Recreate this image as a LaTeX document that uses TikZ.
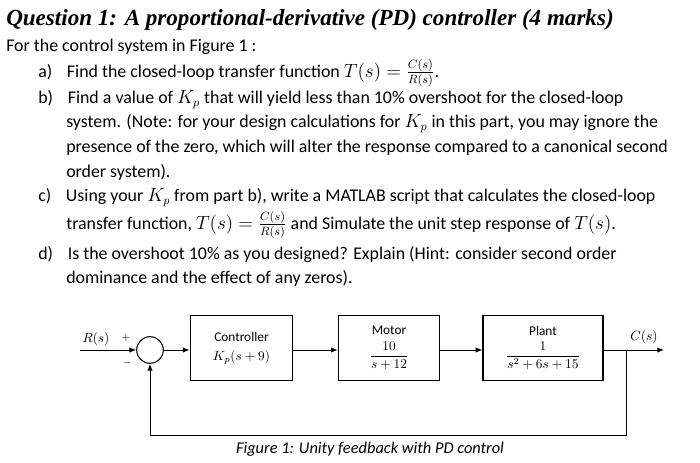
\documentclass[tikz,border=0pt]{standalone}
\usepackage{amsmath}
\usepackage{fontspec}
\setmainfont{Carlito}
\newfontfamily\titlefont{Liberation Serif}
\usetikzlibrary{arrows.meta}
\begin{document}
\begin{tikzpicture}[x=0.75pt,y=-0.75pt,
  txt/.style={anchor=west,inner sep=0,font=\fontsize{13.4}{15}\selectfont},
  blk/.style={draw,line width=0.9pt,minimum height=49pt,align=center,font=\fontsize{10}{12}\selectfont},
  ln/.style={line width=0.7pt,-{Latex[length=5pt,width=4pt]}}]
\useasboundingbox (0,0) rectangle (700,463);
\node[anchor=west,inner sep=0,font=\titlefont\bfseries\itshape\fontsize{17.3}{19}\selectfont] (t) at (6,20) {Question 1: A proportional-derivative (PD) controller (4 marks)};
\node[txt] (l0) at (6,47) {For the control system in Figure 1 :};
\node[txt] (la) at (38,73) {a)\hspace{0.6em} Find the closed-loop transfer function $T(s)=\frac{C(s)}{R(s)}$.};
\node[txt] (lb) at (38,100) {b)\hspace{0.6em} Find a value of $K_p$ that will yield less than 10\% overshoot for the closed-loop};
\node[txt] (lb2) at (66,124) {system. (Note: for your design calculations for $K_p$ in this part, you may ignore the};
\node[txt] (lb3) at (66,148) {presence of the zero, which will alter the response compared to a canonical second};
\node[txt] (lb4) at (66,172) {order system).};
\node[txt] (lc) at (38,198) {c)\hspace{0.6em} Using your $K_p$ from part b), write a MATLAB script that calculates the closed-loop};
\node[txt] (lc2) at (66,225) {transfer function, $T(s)=\frac{C(s)}{R(s)}$ and Simulate the unit step response of $T(s)$.};
\node[txt] (ld) at (38,255) {d)\hspace{0.6em} Is the overshoot 10\% as you designed? Explain (Hint: consider second order};
\node[txt] (ld2) at (66,278) {dominance and the effect of any zeros).};
% diagram
\node[draw,circle,line width=0.8pt,minimum size=20pt,inner sep=0] (sum) at (150,350) {};
\node[blk,minimum width=77pt] (c) at (241.5,348) {Controller\\[2pt]$K_p(s+9)$};
\node[blk,minimum width=76pt] (m) at (389,348) {Motor\\[4pt]$\dfrac{10}{s+12}$};
\node[blk,minimum width=90pt] (p) at (543,348) {Plant\\[4pt]$\dfrac{1}{s^2+6s+15}$};
\coordinate (in) at (80,350);
\coordinate (br) at (626,350);
\coordinate (out) at (664,350);
\coordinate (fb) at (626,435);
\coordinate (fb2) at (150,435);
\draw[ln] (in) -- (sum);
\draw[ln] (sum) -- (c.west|-sum);
\draw[ln] (c.east|-sum) -- (m.west|-sum);
\draw[ln] (m.east|-sum) -- (p.west|-sum);
\draw[ln] (p.east|-sum) -- (out);
\draw[ln] (br) -- (fb) -- (fb2) -- (sum);
\node[font=\fontsize{10}{11}\selectfont,inner sep=0] (r) at (96,339) {$R(s)$};
\node[font=\fontsize{8}{9}\selectfont,inner sep=0] (pl) at (126,338) {$+$};
\node[font=\fontsize{8}{9}\selectfont,inner sep=0] (mi) at (127,363) {$-$};
\node[font=\fontsize{10}{11}\selectfont,inner sep=0] (cs) at (644,337) {$C(s)$};
\node[font=\itshape\fontsize{12.3}{14}\selectfont,inner sep=0] (cap) at (370,449) {Figure 1: Unity feedback with PD control};
\end{tikzpicture}
\end{document}
